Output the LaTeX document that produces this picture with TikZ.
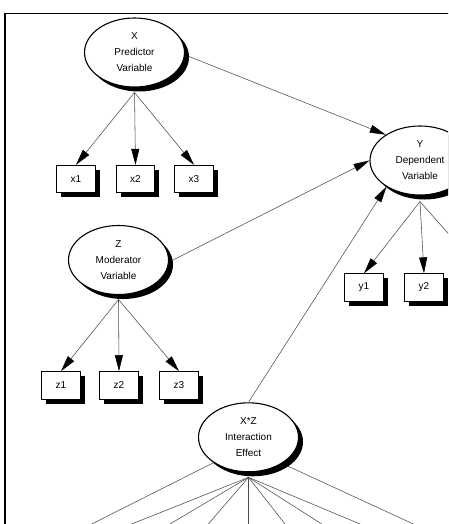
\documentclass[tikz,border=0pt]{standalone}
\usepackage{fontspec}
\setmainfont{Liberation Sans}
\usetikzlibrary{shapes.geometric,shadows,arrows.meta,calc}
\begin{document}
\begin{tikzpicture}[x=1pt,y=-1pt,
  latent/.style={ellipse,draw,line width=1.1pt,fill=white,minimum width=100pt,minimum height=69pt,inner sep=0pt,align=center,font=\fontsize{10}{16}\selectfont,
    drop shadow={shadow xshift=4.5pt,shadow yshift=-4.5pt,fill=black,opacity=1}},
  indicator/.style={rectangle,draw,line width=0.8pt,fill=white,minimum width=38.5pt,minimum height=27.5pt,inner sep=0pt,font=\fontsize{10}{12}\selectfont,
    drop shadow={shadow xshift=4.5pt,shadow yshift=-4.5pt,fill=black,opacity=1}},
  conn/.style={draw=black!70,line width=0.55pt,-{Triangle[length=16pt,width=8pt,color=black]}},
  plainconn/.style={draw=black!70,line width=0.55pt},
  frame/.style={line width=1.7pt}
]
\useasboundingbox (0,0) rectangle (448,524);
\clip (0,0) rectangle (448,524);
\fill[white] (0,0) rectangle (448,524);
\draw[frame] (5,540) -- (5,13.5) -- (460,13.5);

% latent variables
\node[latent] (X) at (134.5,52.5) {X\\Predictor\\Variable};
\node[latent] (Y) at (420,160.5) {Y\\Dependent\\Variable};
\node[latent] (Z) at (118.5,260) {Z\\Moderator\\Variable};
\node[latent] (XZ) at (248.5,437.3) {X*Z\\Interaction\\Effect};

% indicators
\node[indicator] (x1) at (76,179) {x1};
\node[indicator] (x2) at (135.5,179) {x2};
\node[indicator] (x3) at (194,179) {x3};
\node[indicator] (z1) at (61,385.3) {z1};
\node[indicator] (z2) at (119,385.3) {z2};
\node[indicator] (z3) at (179,385.3) {z3};
\node[indicator] (y1) at (364,287.5) {y1};
\node[indicator] (y2) at (424,287.5) {y2};
\coordinate (y3) at (484,274);

% origins below the ellipses
\coordinate (Xb) at ([yshift=-5pt]X.south);
\coordinate (Yb) at ([yshift=-6pt]Y.south);
\coordinate (Zb) at ([yshift=-4.5pt]Z.south);
\coordinate (XZb) at ([yshift=-5pt]XZ.south);

% structural paths
\draw[conn] ([shift={(4pt,-4pt)}]X.east) -- (Y.143);
\draw[conn] ([xshift=4pt]Z.east) -- (Y.west);
\draw[conn] (XZ.north) -- (Y.218);

% measurement paths
\draw[conn] (Xb) -- (x1.north);
\draw[conn] (Xb) -- (x2.north);
\draw[conn] (Xb) -- (x3.north);
\draw[conn] (Zb) -- (z1.north);
\draw[conn] (Zb) -- (z2.north);
\draw[conn] (Zb) -- (z3.north);
\draw[conn] (Yb) -- (y1.north);
\draw[conn] (Yb) -- (y2.north);
\draw[conn] (Yb) -- (y3);

% interaction fan (cut off at bottom)
\coordinate (f0) at (91.7,524);
\coordinate (f1) at (131.7,524);
\coordinate (f2) at (170,524);
\coordinate (f3) at (208.3,524);
\coordinate (f4) at (248.5,524);
\coordinate (f5) at (285,524);
\coordinate (f6) at (321.7,524);
\coordinate (f7) at (360,524);
\coordinate (f8) at (413.3,524);
\draw[plainconn] (XZ.216) -- (f0);
\foreach \i in {1,...,7} {\draw[plainconn] (XZb) -- (f\i);}
\draw[plainconn] ([shift={(4pt,-4pt)}]XZ.-35) -- (f8);
\end{tikzpicture}
\end{document}
